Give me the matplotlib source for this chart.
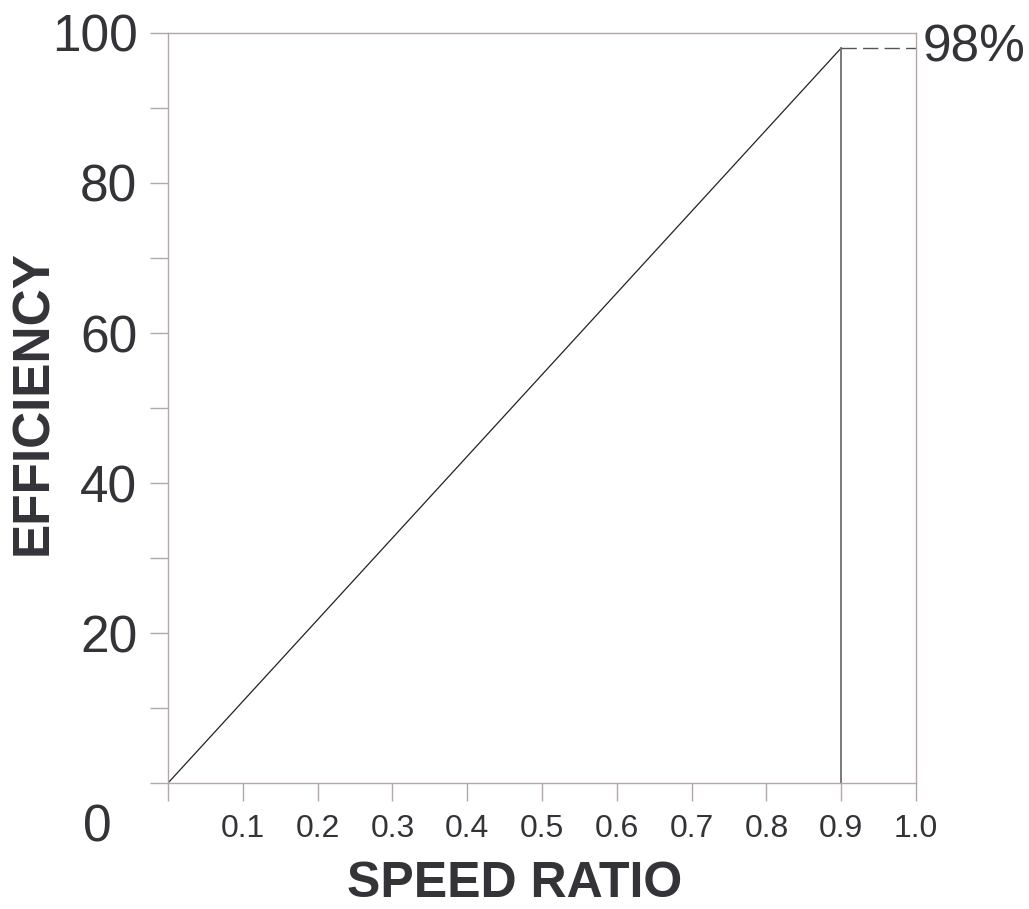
"""
Efficiency vs speed ratio chart.
"""

import matplotlib.pyplot as plt

# data
ratio = [0.0, 0.9]
efficiency = [0.0, 98.0]
peak_ratio = 0.9
peak_eff = 98.0
x_ticks = [0.0, 0.1, 0.2, 0.3, 0.4, 0.5, 0.6, 0.7, 0.8, 0.9, 1.0]
x_tick_labels = ["", "0.1", "0.2", "0.3", "0.4", "0.5", "0.6", "0.7", "0.8", "0.9", "1.0"]
y_major = [0, 20, 40, 60, 80, 100]
y_major_labels = ["", "20", "40", "60", "80", "100"]
y_minor = [10, 30, 50, 70, 90]

SPINE = "#b3a8a8"
TEXT = "#333338"


def generate_plot():
    plt.rcParams["font.family"] = ["Liberation Sans", "DejaVu Sans"]
    fig = plt.figure(figsize=(10.29, 9.09), dpi=100)
    ax = fig.add_axes([0.1633, 0.1386, 0.7269, 0.8251])

    ax.plot(ratio, efficiency, color="#222222", lw=0.9)
    ax.plot([peak_ratio, peak_ratio], [0, peak_eff], color="#707070", lw=1.3)
    ax.plot([peak_ratio, 1.0], [peak_eff, peak_eff], color="#555555", lw=1.0,
            dashes=(11, 4.5))

    ax.set_xlim(0, 1.0)
    ax.set_ylim(0, 100)

    for s in ax.spines.values():
        s.set_color(SPINE)
        s.set_linewidth(1.0)

    ax.set_xticks(x_ticks)
    ax.set_xticklabels(x_tick_labels)
    ax.set_yticks(y_major)
    ax.set_yticklabels(y_major_labels)
    ax.set_yticks(y_minor, minor=True)

    ax.tick_params(axis="x", length=13, width=1.0, color=SPINE, pad=9,
                   labelsize=23, labelcolor=TEXT)
    ax.tick_params(axis="y", which="both", length=13, width=1.0, color=SPINE,
                   pad=9, labelsize=37, labelcolor=TEXT)

    # origin label sits apart from the ticks
    fig.text(97 / 1029, 1 - 828 / 909, "0", ha="center", va="center",
             fontsize=37, color=TEXT)

    ax.annotate("98%", xy=(1.0, peak_eff), xytext=(5, 0),
                textcoords="offset points", ha="left", va="center",
                fontsize=37, color=TEXT, annotation_clip=False)

    ax.set_xlabel("SPEED RATIO", fontsize=36, fontweight="bold", color=TEXT,
                  va="center")
    ax.xaxis.set_label_coords(0.464, -0.135)
    ax.set_ylabel("EFFICIENCY", fontsize=37, fontweight="bold", color=TEXT,
                  va="center")
    ax.yaxis.set_label_coords(-0.180, 0.507)

    fig.savefig("out.png", dpi=100)


if __name__ == "__main__":
    generate_plot()
